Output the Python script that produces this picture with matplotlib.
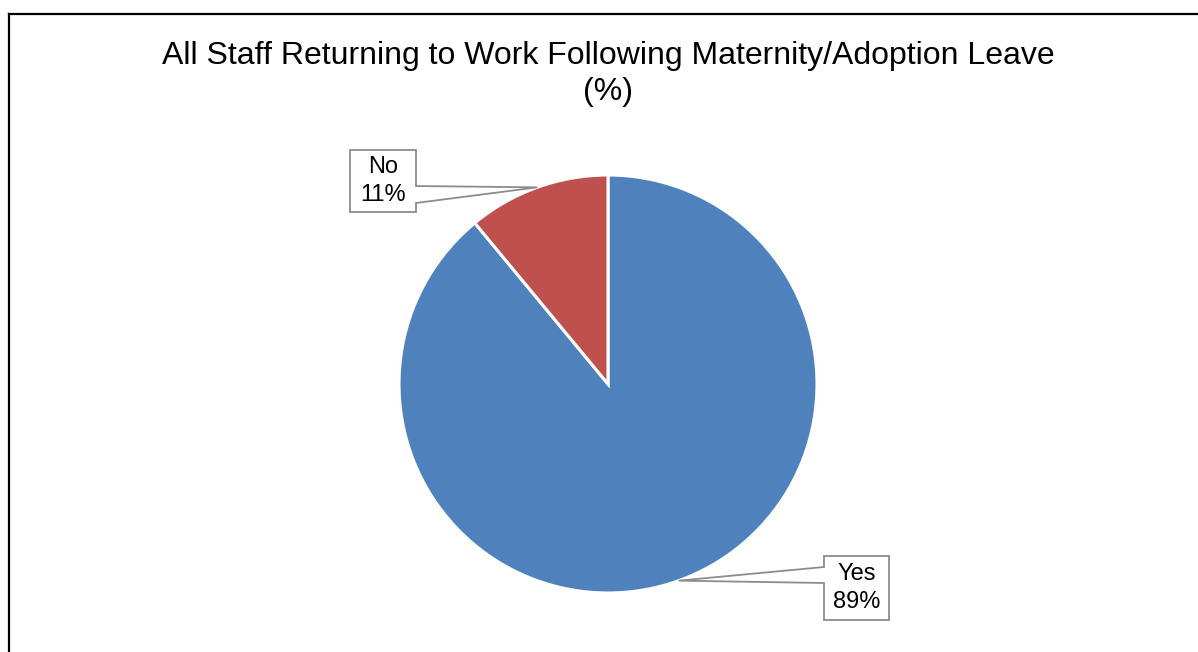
import numpy as np
import matplotlib
matplotlib.use("Agg")
import matplotlib.pyplot as plt
from matplotlib.patches import Polygon
from matplotlib.lines import Line2D

# --- Daten ---
labels = ["Yes", "No"]
values = [89, 11]
colors = ["#4F81BD", "#C0504D"]

TITLE = "All Staff Returning to Work Following Maternity/Adoption Leave\n(%)"

W, H = 1198, 652
plt.rcParams['font.family'] = ['Liberation Sans', 'DejaVu Sans']

fig = plt.figure(figsize=(W / 100, H / 100), dpi=100)
ax = fig.add_axes([0, 0, 1, 1])

cx, cy, r = 608, H - 384, 209
wedges, _ = ax.pie(values, colors=colors, startangle=90, counterclock=False,
                   center=(cx, cy), radius=r, frame=True,
                   wedgeprops=dict(edgecolor="white", linewidth=2.2))
ax.set_xlim(0, W)
ax.set_ylim(0, H)
ax.set_aspect("equal")
ax.axis("off")

# Beschriftungs-Boxen (links, oben, breite, hoehe) in Pixel
boxes = {
    "Yes": (824, 556, 65, 64),
    "No": (350, 150, 66, 62),
}

for w, lab, val in zip(wedges, labels, values):
    mid = np.deg2rad((w.theta1 + w.theta2) / 2)
    ax_pt = (cx + r * np.cos(mid), cy + r * np.sin(mid))
    bx, by, bw, bh = boxes[lab]
    top = H - by
    bot = H - by - bh
    if ax_pt[0] < bx:
        # Zeiger nach links (Yes)
        e = bx
        y1 = top - 11
        y2 = top - 27
        verts = [(bx, top), (bx + bw, top), (bx + bw, bot), (bx, bot),
                 (e, y2), ax_pt, (e, y1)]
    else:
        e = bx + bw
        y1 = top - 36
        y2 = top - 53
        verts = [(bx, top), (bx + bw, top), (e, y1), ax_pt, (e, y2),
                 (bx + bw, bot), (bx, bot)]
    ax.add_patch(Polygon(verts, closed=True, facecolor="white",
                         edgecolor="#8C8C8C", linewidth=1.3, zorder=5))
    ax.text(bx + bw / 2, top - bh / 2, f"{lab}\n{val}%", ha="center", va="center",
            fontsize=17, linespacing=1.3, zorder=6)

fig.text(608 / W, 1 - 74 / H, TITLE, ha="center", va="center",
         fontsize=23, linespacing=1.27)

# Rahmen (links + oben)
fig.add_artist(Line2D([8.5 / W, 8.5 / W], [0, 1 - 13.5 / H], color="black", linewidth=1.6))
fig.add_artist(Line2D([8.5 / W, 1], [1 - 13.5 / H, 1 - 13.5 / H], color="black", linewidth=1.6))

fig.savefig("out.png", dpi=100, facecolor="white")
